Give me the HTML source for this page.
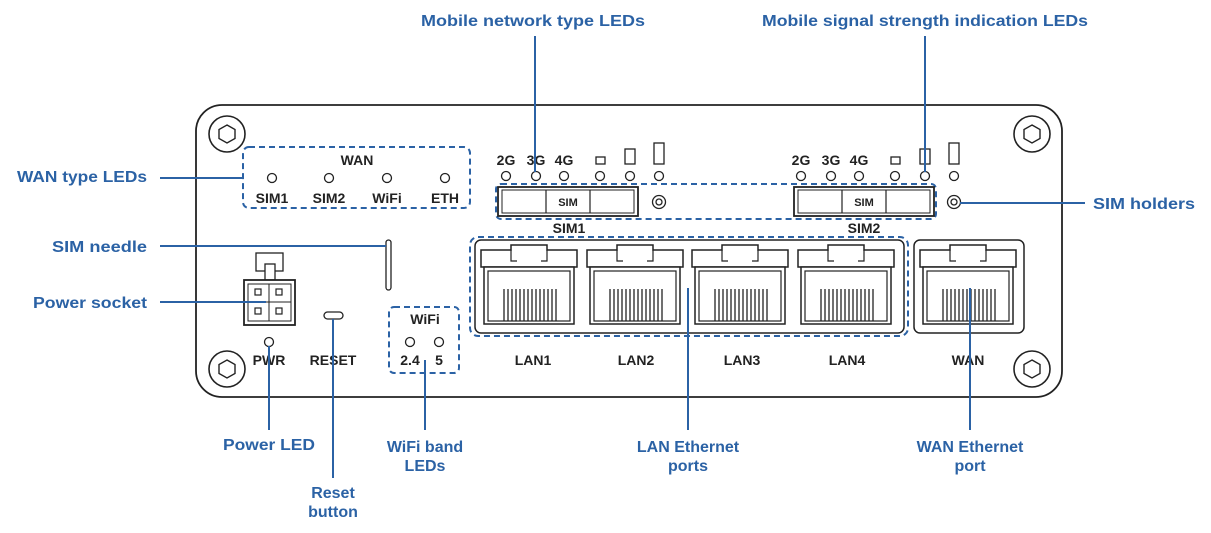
<!DOCTYPE html>
<html><head><meta charset="utf-8"><style>
html,body{margin:0;padding:0;background:#fff;}
svg{display:block;}
.b{font-family:"Liberation Sans",sans-serif;font-weight:bold;fill:#2b62a5;font-size:16px;}
.k{font-family:"Liberation Sans",sans-serif;font-weight:bold;fill:#222;font-size:14px;}
.s{font-family:"Liberation Sans",sans-serif;font-weight:bold;fill:#222;font-size:11px;}
</style></head><body>
<svg width="1211" height="533" viewBox="0 0 1211 533" xmlns="http://www.w3.org/2000/svg">
<defs>
<g id="port">
  <path d="M0,7 H30 V2 H66 V7 H96 V24 H0 Z" fill="#fff" stroke="#222" stroke-width="1.5"/>
  <path d="M30,7 V18 H36 M66,7 V18 H60" fill="none" stroke="#222" stroke-width="1.2"/>
  <rect x="3" y="24" width="90" height="57" fill="#fff" stroke="#222" stroke-width="1.5"/>
  <rect x="7" y="28" width="82" height="50" fill="none" stroke="#222" stroke-width="1.2"/>
  <g stroke="#222" stroke-width="1.3">
    <line x1="23" y1="46" x2="23" y2="78"/><line x1="27" y1="46" x2="27" y2="78"/><line x1="31" y1="46" x2="31" y2="78"/><line x1="35" y1="46" x2="35" y2="78"/><line x1="39" y1="46" x2="39" y2="78"/><line x1="43" y1="46" x2="43" y2="78"/><line x1="47" y1="46" x2="47" y2="78"/><line x1="51" y1="46" x2="51" y2="78"/><line x1="55" y1="46" x2="55" y2="78"/><line x1="59" y1="46" x2="59" y2="78"/><line x1="63" y1="46" x2="63" y2="78"/><line x1="67" y1="46" x2="67" y2="78"/><line x1="71" y1="46" x2="71" y2="78"/><line x1="75" y1="46" x2="75" y2="78"/>
  </g>
</g>
<g id="screw">
  <circle r="18" fill="#fff" stroke="#222" stroke-width="1.6"/>
  <polygon points="0,-9 8,-4.5 8,4.5 0,9 -8,4.5 -8,-4.5" fill="none" stroke="#222" stroke-width="1.4"/>
</g>
<g id="simblock">
  <rect x="0" y="0" width="140" height="29" fill="#fff" stroke="#222" stroke-width="1.8"/>
  <rect x="4" y="3" width="132" height="23" fill="none" stroke="#222" stroke-width="1"/>
  <line x1="48" y1="3" x2="48" y2="26" stroke="#222" stroke-width="1.2"/>
  <line x1="92" y1="3" x2="92" y2="26" stroke="#222" stroke-width="1.2"/>
  <text x="70" y="19" class="s" text-anchor="middle">SIM</text>
</g>
<g id="leds">
  <text x="0" y="165" class="k" font-size="13" text-anchor="middle">2G</text>
  <text x="30" y="165" class="k" font-size="13" text-anchor="middle">3G</text>
  <text x="58" y="165" class="k" font-size="13" text-anchor="middle">4G</text>
  <rect x="90" y="157" width="9" height="7" fill="none" stroke="#222" stroke-width="1.3"/>
  <rect x="119" y="149" width="10" height="15" fill="none" stroke="#222" stroke-width="1.3"/>
  <rect x="148" y="143" width="10" height="21" fill="none" stroke="#222" stroke-width="1.3"/>
  <g fill="#fff" stroke="#222" stroke-width="1.3">
    <circle cx="0" cy="176" r="4.5"/><circle cx="30" cy="176" r="4.5"/><circle cx="58" cy="176" r="4.5"/>
    <circle cx="94" cy="176" r="4.5"/><circle cx="124" cy="176" r="4.5"/><circle cx="153" cy="176" r="4.5"/>
  </g>
</g>
</defs>

<rect x="196" y="105" width="866" height="292" rx="26" fill="#fff" stroke="#222" stroke-width="1.8"/>
<use href="#screw" x="227" y="134"/>
<use href="#screw" x="1032" y="134"/>
<use href="#screw" x="227" y="369"/>
<use href="#screw" x="1032" y="369"/>

<rect x="243" y="147" width="227" height="61" rx="6" fill="none" stroke="#2b62a5" stroke-width="2" stroke-dasharray="6,4"/>
<text x="357" y="165" class="k" text-anchor="middle">WAN</text>
<g fill="#fff" stroke="#222" stroke-width="1.3">
<circle cx="272" cy="178" r="4.5"/><circle cx="329" cy="178" r="4.5"/><circle cx="387" cy="178" r="4.5"/><circle cx="445" cy="178" r="4.5"/>
</g>
<text x="272" y="203" class="k" text-anchor="middle">SIM1</text>
<text x="329" y="203" class="k" text-anchor="middle">SIM2</text>
<text x="387" y="203" class="k" text-anchor="middle">WiFi</text>
<text x="445" y="203" class="k" text-anchor="middle">ETH</text>

<use href="#leds" x="506" y="0"/>
<use href="#leds" x="801" y="0"/>

<rect x="496" y="184" width="440" height="35" rx="5" fill="none" stroke="#2b62a5" stroke-width="2" stroke-dasharray="6,4"/>
<use href="#simblock" x="498" y="187"/>
<use href="#simblock" x="794" y="187"/>
<circle cx="659" cy="202" r="6.5" fill="#fff" stroke="#222" stroke-width="1.3"/><circle cx="659" cy="202" r="3" fill="none" stroke="#222" stroke-width="1.3"/>
<circle cx="954" cy="202" r="6.5" fill="#fff" stroke="#222" stroke-width="1.3"/><circle cx="954" cy="202" r="3" fill="none" stroke="#222" stroke-width="1.3"/>
<text x="569" y="233" class="k" text-anchor="middle">SIM1</text>
<text x="864" y="233" class="k" text-anchor="middle">SIM2</text>

<rect x="386" y="240" width="5" height="50" rx="2.5" fill="#fff" stroke="#222" stroke-width="1.3"/>

<rect x="256" y="253" width="27" height="18" fill="#fff" stroke="#222" stroke-width="1.3"/>
<rect x="265" y="264" width="10" height="16" fill="#fff" stroke="#222" stroke-width="1.3"/>
<rect x="244" y="280" width="51" height="45" fill="#fff" stroke="#222" stroke-width="1.8"/>
<rect x="248" y="284" width="43" height="37" fill="none" stroke="#222" stroke-width="1"/>
<line x1="269" y1="284" x2="269" y2="321" stroke="#222" stroke-width="1"/>
<line x1="248" y1="302" x2="291" y2="302" stroke="#222" stroke-width="1"/>
<g fill="none" stroke="#222" stroke-width="1.2">
<rect x="255" y="289" width="6" height="6"/><rect x="276" y="289" width="6" height="6"/><rect x="255" y="308" width="6" height="6"/><rect x="276" y="308" width="6" height="6"/>
</g>

<rect x="324" y="312" width="19" height="7" rx="3.5" fill="#fff" stroke="#222" stroke-width="1.3"/>
<circle cx="269" cy="342" r="4.5" fill="#fff" stroke="#222" stroke-width="1.3"/>
<text x="269" y="365" class="k" text-anchor="middle">PWR</text>
<text x="333" y="365" class="k" text-anchor="middle">RESET</text>

<rect x="389" y="307" width="70" height="66" rx="5" fill="none" stroke="#2b62a5" stroke-width="2" stroke-dasharray="6,4"/>
<text x="425" y="324" class="k" text-anchor="middle">WiFi</text>
<circle cx="410" cy="342" r="4.5" fill="#fff" stroke="#222" stroke-width="1.3"/>
<circle cx="439" cy="342" r="4.5" fill="#fff" stroke="#222" stroke-width="1.3"/>
<text x="410" y="365" class="k" text-anchor="middle">2.4</text>
<text x="439" y="365" class="k" text-anchor="middle">5</text>

<rect x="475" y="240" width="429" height="93" rx="6" fill="#fff" stroke="#222" stroke-width="1.5"/>
<rect x="470" y="237" width="438" height="99" rx="8" fill="none" stroke="#2b62a5" stroke-width="2" stroke-dasharray="6,4"/>
<use href="#port" x="481" y="243"/>
<use href="#port" x="587" y="243"/>
<use href="#port" x="692" y="243"/>
<use href="#port" x="798" y="243"/>
<rect x="914" y="240" width="110" height="93" rx="6" fill="#fff" stroke="#222" stroke-width="1.5"/>
<use href="#port" x="920" y="243"/>
<text x="533" y="365" class="k" text-anchor="middle">LAN1</text>
<text x="636" y="365" class="k" text-anchor="middle">LAN2</text>
<text x="742" y="365" class="k" text-anchor="middle">LAN3</text>
<text x="847" y="365" class="k" text-anchor="middle">LAN4</text>
<text x="968" y="365" class="k" text-anchor="middle">WAN</text>

<g stroke="#2b62a5" stroke-width="2" fill="none">
<line x1="160" y1="178" x2="243" y2="178"/>
<line x1="160" y1="246" x2="386" y2="246"/>
<line x1="160" y1="302" x2="266" y2="302"/>
<line x1="960" y1="203" x2="1085" y2="203"/>
<line x1="535" y1="36" x2="535" y2="172"/>
<line x1="925" y1="36" x2="925" y2="172"/>
<line x1="269" y1="346" x2="269" y2="430"/>
<line x1="333" y1="319" x2="333" y2="478"/>
<line x1="425" y1="360" x2="425" y2="430"/>
<line x1="688" y1="288" x2="688" y2="430"/>
<line x1="970" y1="288" x2="970" y2="430"/>
</g>

<text x="533" y="26" class="b" text-anchor="middle" textLength="224" lengthAdjust="spacingAndGlyphs">Mobile network type LEDs</text>
<text x="925" y="26" class="b" text-anchor="middle" textLength="326" lengthAdjust="spacingAndGlyphs">Mobile signal strength indication LEDs</text>
<text x="147" y="182" class="b" text-anchor="end" textLength="130" lengthAdjust="spacingAndGlyphs">WAN type LEDs</text>
<text x="147" y="252" class="b" text-anchor="end" textLength="95" lengthAdjust="spacingAndGlyphs">SIM needle</text>
<text x="147" y="308" class="b" text-anchor="end" textLength="114" lengthAdjust="spacingAndGlyphs">Power socket</text>
<text x="1093" y="209" class="b" textLength="102" lengthAdjust="spacingAndGlyphs">SIM holders</text>
<text x="269" y="450" class="b" text-anchor="middle" textLength="92" lengthAdjust="spacingAndGlyphs">Power LED</text>
<text x="333" y="498" class="b" text-anchor="middle">Reset</text>
<text x="333" y="517" class="b" text-anchor="middle">button</text>
<text x="425" y="452" class="b" text-anchor="middle">WiFi band</text>
<text x="425" y="471" class="b" text-anchor="middle">LEDs</text>
<text x="688" y="452" class="b" text-anchor="middle">LAN Ethernet</text>
<text x="688" y="471" class="b" text-anchor="middle">ports</text>
<text x="970" y="452" class="b" text-anchor="middle">WAN Ethernet</text>
<text x="970" y="471" class="b" text-anchor="middle">port</text>
</svg>
</body></html>
